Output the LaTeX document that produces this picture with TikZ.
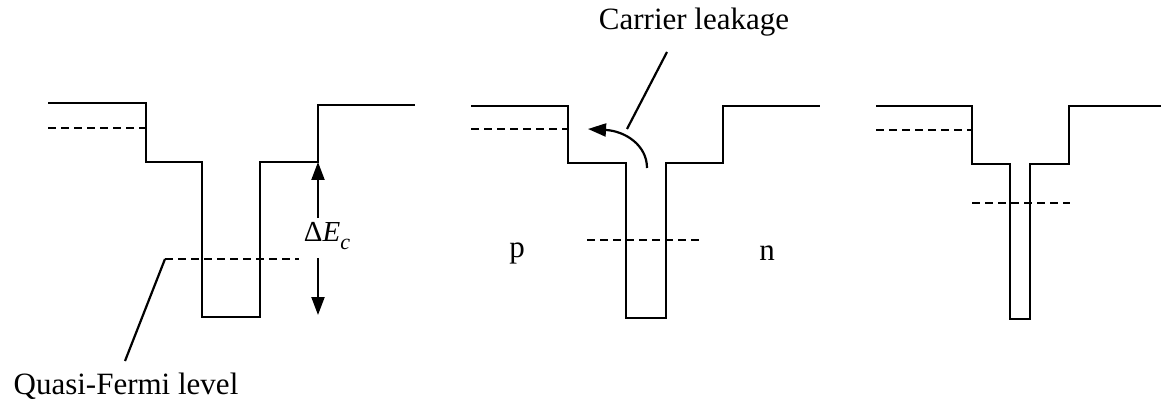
\documentclass[tikz,border=0pt]{standalone}
\usepackage{fontspec}
\setmainfont{Liberation Serif}
\usetikzlibrary{arrows.meta}
\tikzset{
  band/.style={line width=2.2pt, line join=miter},
  fermi/.style={line width=2.4pt, dash pattern=on 8pt off 5pt},
  leader/.style={line width=2.2pt},
  lbl/.style={font=\fontsize{31}{36}\selectfont, inner sep=0pt},
  tip/.style={-{Triangle[length=18pt,width=13pt]}, line width=2.2pt}
}
\begin{document}
\begin{tikzpicture}[x=1pt,y=-1pt]
\useasboundingbox (0,0) rectangle (1161,406);
% ---- panel 1
\draw[band] (48,103) -- (146,103) -- (146,162) -- (202,162) -- (202,317) -- (260,317) -- (260,162) -- (318,162) -- (318,105) -- (415,105);
\draw[fermi] (48,128) -- (146,128);
\draw[fermi] (165,259) -- (299,259);
\coordinate (qf) at (165,259);
\node[lbl] (qlabel) at (126,386) {Quasi-Fermi level};
\draw[leader] (qf) -- (125,361);
\coordinate (dEtop) at (318,162);
\coordinate (dEbot) at (318,315);
\node[lbl, font=\fontsize{29}{34}\selectfont] (dE) at (327,236) {Δ\textit{E}\raisebox{-0.28em}{\fontsize{22}{24}\selectfont\textit{c}}};
\draw[tip] (318,218) -- (dEtop);
\draw[tip] (318,258) -- (dEbot);
% ---- panel 2
\draw[band] (471,106) -- (568,106) -- (568,163) -- (626,163) -- (626,318) -- (666,318) -- (666,163) -- (723,163) -- (723,106) -- (820,106);
\draw[fermi] (471,129) -- (568,129);
\draw[fermi] (587,240) -- (703,240);
\coordinate (lkstart) at (647,168);
\coordinate (lkend) at (588,129);
\draw[tip] (lkstart) .. controls (647,145) and (625,131) .. (lkend);
\node[lbl] (cl) at (694,22) {Carrier leakage};
\draw[leader] (627,129) -- (667,52);
\node[lbl] (p) at (517,253) {p};
\node[lbl] (n) at (767,253) {n};
% ---- panel 3
\draw[band] (876,106) -- (972,106) -- (972,164) -- (1010,164) -- (1010,319) -- (1030,319) -- (1030,164) -- (1069,164) -- (1069,106) -- (1161,106);
\draw[fermi] (876,130) -- (972,130);
\draw[fermi] (972,203) -- (1070,203);
\end{tikzpicture}
\end{document}
